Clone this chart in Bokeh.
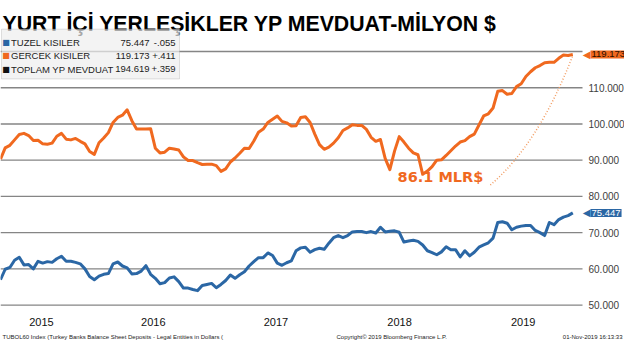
import pandas as pd
from bokeh.plotting import figure
from bokeh.models import (Range1d, FixedTicker, NumeralTickFormatter, Label,
                          BoxAnnotation, DatetimeTickFormatter)
from bokeh.embed import file_html
from bokeh.resources import INLINE

# ---------------- data ----------------
END_DATE = "2019-11-01"
STEP = "14D"

gercek = [90.3, 93.4, 94.1, 95.6, 97.1, 97.4, 96.8, 95.4, 95.5, 94.5,
          94.4, 94.7, 96.6, 97.4, 95.8, 95.6, 96.0, 95.2, 94.5, 92.4,
          91.6, 94.8, 96.1, 97.6, 100.4, 101.8, 102.4, 103.9, 100.9, 98.6,
          98.6, 98.6, 98.7, 93.3, 92.0, 92.2, 93.3, 93.1, 92.8, 90.9,
          89.9, 89.9, 89.3, 88.8, 88.9, 88.9, 88.5, 86.9, 87.6, 89.5,
          90.6, 91.9, 93.3, 93.2, 95.3, 97.7, 98.6, 100.4, 101.3, 102.2,
          100.7, 100.3, 99.4, 99.5, 101.8, 102.0, 100.4, 97.2, 94.3, 93.0,
          93.6, 94.7, 96.2, 98.2, 98.9, 99.8, 99.6, 99.6, 98.5, 96.3,
          95.2, 95.7, 90.5, 87.4, 92.5, 96.5, 95.0, 93.3, 92.0, 91.5,
          86.1, 87.0, 88.2, 90.0, 90.1, 91.3, 92.6, 93.9, 95.0, 95.4,
          96.5, 97.2, 99.7, 102.2, 102.8, 104.4, 109.0, 109.2, 108.2, 108.4,
          110.3, 111.1, 113.1, 114.4, 115.5, 116.1, 116.9, 117.0, 117.0, 118.1,
          119.0, 118.9, 119.173]

tuzel = [57.0, 59.9, 60.4, 62.4, 63.2, 61.1, 61.2, 60.0, 62.1, 61.6,
         62.0, 61.8, 62.8, 63.5, 62.1, 62.1, 61.8, 61.4, 60.0, 57.9,
         57.0, 58.0, 58.5, 58.7, 61.4, 61.9, 60.8, 60.3, 58.6, 58.7,
         59.4, 60.9, 58.5, 57.4, 55.9, 56.2, 57.5, 57.8, 56.5, 54.7,
         54.7, 54.3, 54.0, 55.4, 55.7, 56.0, 54.8, 55.7, 56.8, 58.3,
         57.4, 58.4, 59.2, 60.8, 62.0, 63.1, 63.1, 64.4, 63.7, 61.6,
         61.0, 61.7, 62.2, 65.0, 65.8, 66.0, 64.6, 65.3, 65.7, 65.4,
         67.1, 68.6, 69.2, 68.6, 69.2, 70.2, 70.3, 70.3, 70.0, 70.3,
         69.9, 71.5, 70.2, 70.4, 70.5, 70.1, 67.4, 67.7, 67.9, 67.6,
         66.6, 65.0, 64.5, 63.9, 64.7, 66.1, 65.3, 65.3, 63.3, 65.0,
         63.6, 64.6, 66.0, 66.6, 67.2, 68.5, 72.8, 73.0, 72.6, 70.8,
         71.5, 71.8, 72.0, 72.0, 70.6, 70.0, 69.2, 72.8, 72.2, 73.6,
         74.3, 74.7, 75.447]

dates = pd.date_range(end=END_DATE, periods=len(gercek), freq=STEP)

year_tick_dates = ["2015-06-29", "2016-05-28", "2017-05-29", "2018-06-02", "2019-06-06"]
grid_values = [50, 60, 70, 80, 90, 100, 110, 120]
axis_values = [50, 60, 70, 80, 90, 100, 110]   # 120 is hidden behind the last-value tag

legend_names = ["TUZEL KISILER", "GERCEK KISILER", "TOPLAM YP MEVDUAT"]
legend_last = ["75.447", "119.173", "194.619"]
legend_change = ["-.055", "+.411", "+.359"]

min_text = "86.1 MLR$"
min_text_pos = ("2018-10-02", 85.26)
arrow_start = ("2019-02-28", 83.15)
arrow_ctrl = ("2019-07-22", 94.5)
arrow_end_value = 118.9

title_text = "YURT İÇİ YERLEŞİKLER YP MEVDUAT-MİLYON $"
footer_left = "TUBOL60 Index (Turkey Banks Balance Sheet Deposits - Legal Entities in Dollars ("
footer_mid = "Copyright\u00a9 2019 Bloomberg Finance L.P."
footer_right = "01-Nov-2019 16:13:33"

# ---------------- styles / layout ----------------
ORANGE = "#f0691f"
BLUE = "#2b67a5"
BLACK = "#111111"
GRID = "#858585"
FONT = "Liberation Sans"
W, H = 624, 344


def ms(d):
    return pd.Timestamp(d).value / 1e6


# the plot frame fills the whole canvas; px -> data helpers for layout
X0 = ms(dates[0])
MS_PER_PX = (ms(dates[-1]) - X0) / 572.3
X1 = X0 + W * MS_PER_PX
PX_PER_UNIT = 3.624
Y1 = 120 + 50.95 / PX_PER_UNIT
Y0 = Y1 - H / PX_PER_UNIT


def fx(px):
    return X0 + px * MS_PER_PX


def fy(py):
    return Y1 - py / PX_PER_UNIT


p = figure(width=W, height=H, x_axis_type="datetime",
           x_range=Range1d(X0, X1), y_range=Range1d(Y0, Y1),
           y_axis_location="right", output_backend="svg", toolbar_location=None,
           min_border=0, min_border_left=0, min_border_right=0,
           min_border_top=0, min_border_bottom=0)
p.title.visible = False
p.outline_line_color = None
p.background_fill_color = "white"
p.border_fill_color = "white"
p.xgrid.grid_line_color = None
p.ygrid.grid_line_color = None

GRID_END = fx(582)

# y axis (right side, labels after the grid lines)
yax = p.yaxis[0]
yax.fixed_location = GRID_END
yax.ticker = FixedTicker(ticks=axis_values)
yax.formatter = NumeralTickFormatter(format="0.000")
yax.axis_line_color = None
yax.major_tick_line_color = None
yax.minor_tick_line_color = None
yax.major_tick_out = 0
yax.major_label_standoff = 6
yax.major_label_text_font = FONT
yax.major_label_text_font_size = "10px"
yax.major_label_text_color = "#404040"

# x axis (years)
xax = p.xaxis[0]
xax.fixed_location = fy(314)
xax.ticker = FixedTicker(ticks=[ms(d) for d in year_tick_dates])
xax.formatter = DatetimeTickFormatter(milliseconds="%Y", seconds="%Y", minsec="%Y", minutes="%Y",
                                      hourmin="%Y", hours="%Y", days="%Y", months="%Y", years="%Y")
xax.axis_line_color = None
xax.major_tick_line_color = None
xax.minor_tick_line_color = None
xax.major_tick_out = 0
xax.major_label_standoff = 3
xax.major_label_text_font = FONT
xax.major_label_text_font_size = "11px"
xax.major_label_text_color = "#111111"

# horizontal grid lines (stop before the value labels)
p.segment(x0=[X0] * len(grid_values), y0=grid_values, x1=[GRID_END] * len(grid_values), y1=grid_values,
          line_color=GRID, line_width=1.4)

# series
p.line(dates, gercek, line_color=ORANGE, line_width=3, line_join="round")
p.line(dates, tuzel, line_color=BLUE, line_width=3, line_join="round")

# dotted arrow towards the last value
p.quadratic(x0=[ms(arrow_start[0])], y0=[arrow_start[1]],
            x1=[ms(dates[-1])], y1=[arrow_end_value],
            cx=[ms(arrow_ctrl[0])], cy=[arrow_ctrl[1]],
            line_color="#f29c62", line_width=1.5, line_dash="1 2")

p.add_layout(Label(x=ms(min_text_pos[0]), y=min_text_pos[1], text=min_text,
                   text_font="DejaVu Sans", text_font_style="bold", text_font_size="14.5px",
                   text_color=ORANGE, text_align="center", text_baseline="middle"))

# title
p.add_layout(Label(x=fx(2), y=fy(23), text=title_text,
                   text_font=FONT, text_font_style="bold", text_font_size="21.3px",
                   text_color="#000000", text_align="left", text_baseline="alphabetic"))

# legend box
p.add_layout(BoxAnnotation(left=fx(1), right=fx(179), top=fy(28.7), bottom=fy(78.4),
                           fill_color="#eeeeee", fill_alpha=0.7, line_color="#9a9a9a", line_width=1))
row_y = [42.1, 55.4, 68.8]
for name, last, chg, col, ry in zip(legend_names, legend_last, legend_change,
                                    [BLUE, ORANGE, BLACK], row_y):
    p.add_layout(Label(x=fx(5.5), y=fy(ry), text="\u25a0",
                       text_font="DejaVu Sans", text_font_size="8px", text_color=col,
                       text_align="center", text_baseline="middle"))
    p.add_layout(Label(x=fx(10.5), y=fy(ry), text=name,
                       text_font=FONT, text_font_size="9.5px", text_color="#222222",
                       text_align="left", text_baseline="middle"))
    p.add_layout(Label(x=fx(149), y=fy(ry), text=last,
                       text_font=FONT, text_font_size="9.5px", text_color="#222222",
                       text_align="right", text_baseline="middle"))
    p.add_layout(Label(x=fx(175), y=fy(ry), text=chg,
                       text_font=FONT, text_font_size="9.5px", text_color="#222222",
                       text_align="right", text_baseline="middle"))

# last value tags on the right axis
for val, bg, fg in [(gercek[-1], ORANGE, "#2a0e00"), (tuzel[-1], BLUE, "#ffffff")]:
    p.add_layout(Label(x=fx(590), y=val, text="\u25c0",
                       text_font="DejaVu Sans", text_font_size="10px", text_color=bg,
                       text_align="right", text_baseline="middle"))
    p.add_layout(Label(x=fx(590), y=val, text=f"{val:.3f}",
                       text_font=FONT, text_font_size="9.5px", text_color=fg,
                       background_fill_color=bg, padding=1,
                       text_align="left", text_baseline="middle"))

# footer
for txt, px, align in [(footer_left, 2, "left"), (footer_mid, 336, "left"), (footer_right, 622, "right")]:
    p.add_layout(Label(x=fx(px), y=fy(336.5), text=txt,
                       text_font=FONT, text_font_size="6px", text_color="#222222",
                       text_align=align, text_baseline="middle"))

open("out.html", "w").write(file_html(p, INLINE))
